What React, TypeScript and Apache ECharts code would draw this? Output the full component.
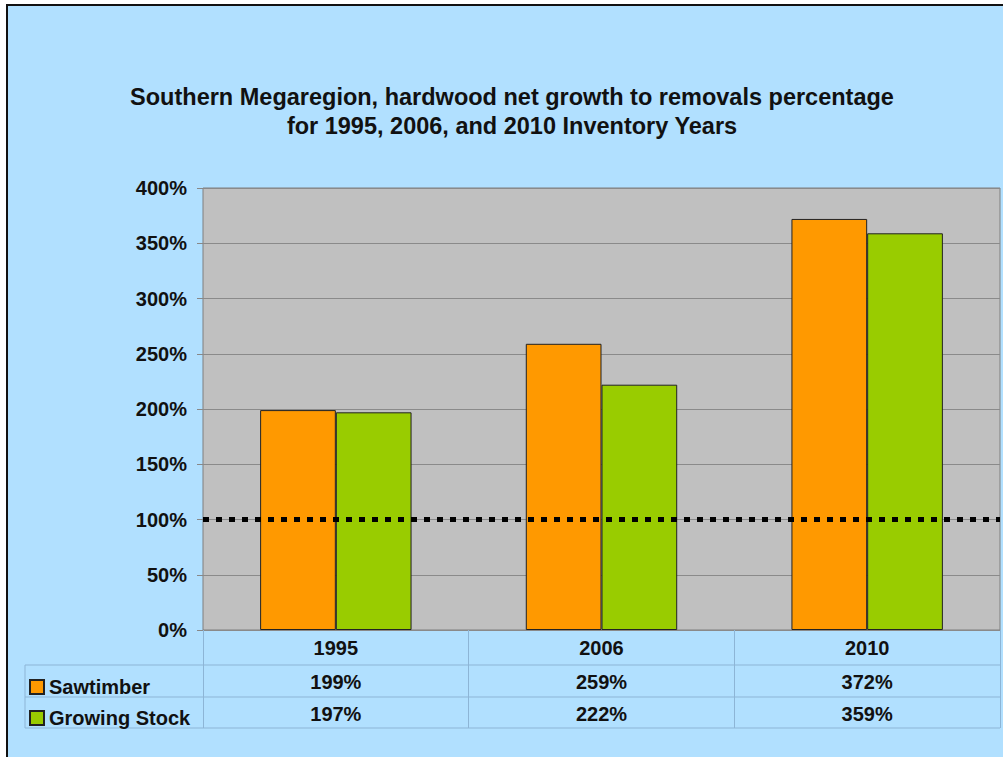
import React, { useEffect, useRef } from "react";
import * as echarts from "echarts";

const categories = ["1995", "2006", "2010"];
const sawtimber = [199, 259, 372];
const growingStock = [197, 222, 359];
const yTicks = { min: 0, max: 400, interval: 50 };
const referenceLine = 100;
const seriesNames = ["Sawtimber", "Growing Stock"];
const titleLines = [
  "Southern Megaregion, hardwood net growth to removals percentage",
  "for 1995, 2006, and 2010 Inventory Years",
];

const FONT = "'Liberation Sans', Arial, sans-serif";
const TABLE_LINE = "#8db5d6";

export default function App() {
  const ref = useRef<HTMLDivElement>(null);
  useEffect(() => {
    if (!ref.current) return;
    const chart = echarts.init(ref.current, null, { renderer: "svg" });
    const label = (i: number) =>
      `{y|${categories[i]}}\n{v|${sawtimber[i]}%}\n{v|${growingStock[i]}%}`;
    const legendText = { fontSize: 20, fontWeight: "bold", color: "#111", fontFamily: FONT };
    chart.setOption({
      animation: false,
      backgroundColor: "#ffffff",
      textStyle: { fontFamily: FONT },
      graphic: [
        {
          type: "rect",
          z: -10,
          shape: { x: 7, y: 5, width: 1020, height: 800 },
          style: { fill: "#b1e0ff", stroke: "#111", lineWidth: 2 },
          silent: true,
        },
        {
          type: "text",
          x: 512,
          y: 111,
          style: {
            text: titleLines.join("\n"),
            font: `bold 23.5px ${FONT}`,
            fill: "#111",
            align: "center",
            verticalAlign: "middle",
            lineHeight: 29,
          },
        },
        ...[665, 697, 728].map((y) => ({
          type: "line",
          shape: { x1: 25, y1: y, x2: 1000, y2: y },
          style: { stroke: TABLE_LINE, lineWidth: 1 },
          silent: true,
        })),
        {
          type: "line",
          shape: { x1: 25, y1: 665, x2: 25, y2: 728 },
          style: { stroke: TABLE_LINE, lineWidth: 1 },
          silent: true,
        },
      ],
      legend: [
        {
          left: 29,
          top: 677,
          itemWidth: 14,
          itemHeight: 14,
          padding: 0,
          itemGap: 4,
          icon: "rect",
          textStyle: legendText,
          data: [seriesNames[0]],
        },
        {
          left: 29,
          top: 708,
          itemWidth: 14,
          itemHeight: 14,
          padding: 0,
          itemGap: 4,
          icon: "rect",
          textStyle: legendText,
          data: [seriesNames[1]],
        },
      ],
      grid: {
        left: 203,
        right: 3,
        top: 188,
        bottom: 127,
        show: true,
        backgroundColor: "#c0c0c0",
        borderColor: "#7f7f7f",
        borderWidth: 1,
        containLabel: false,
      },
      xAxis: {
        type: "category",
        data: categories,
        axisLine: { show: false },
        axisTick: {
          show: true,
          length: 98,
          lineStyle: { color: TABLE_LINE, width: 1 },
        },
        axisLabel: {
          formatter: (_v: string, i: number) => label(i),
          margin: 0,
          rich: {
            y: { fontSize: 20, fontWeight: "bold", color: "#111", lineHeight: 36, fontFamily: FONT },
            v: { fontSize: 20, fontWeight: "bold", color: "#111", lineHeight: 32, fontFamily: FONT },
          },
        },
      },
      yAxis: {
        type: "value",
        min: yTicks.min,
        max: yTicks.max,
        interval: yTicks.interval,
        axisLine: { show: false },
        axisTick: { show: true, length: 6, lineStyle: { color: "#888" } },
        splitLine: { lineStyle: { color: "#8a8a8a", width: 1 } },
        axisLabel: {
          formatter: "{value}%",
          fontSize: 20,
          fontWeight: "bold",
          color: "#111",
          margin: 16,
          fontFamily: FONT,
        },
      },
      series: [
        {
          name: seriesNames[0],
          type: "bar",
          data: sawtimber,
          barGap: "0%",
          barCategoryGap: "43%",
          itemStyle: { color: "#ff9900", borderColor: "#222", borderWidth: 1 },
          markLine: {
            silent: true,
            symbol: "none",
            label: { show: false },
            lineStyle: { color: "#000", width: 5, type: [6, 7], cap: "butt" },
            data: [{ yAxis: referenceLine }],
            z: 10,
          },
        },
        {
          name: seriesNames[1],
          type: "bar",
          data: growingStock,
          itemStyle: { color: "#99cc00", borderColor: "#222", borderWidth: 1 },
        },
      ],
    });
    return () => chart.dispose();
  }, []);
  return (
    <div
      ref={ref}
      style={{ position: "fixed", left: 0, top: 0, width: 1003, height: 757 }}
    />
  );
}
